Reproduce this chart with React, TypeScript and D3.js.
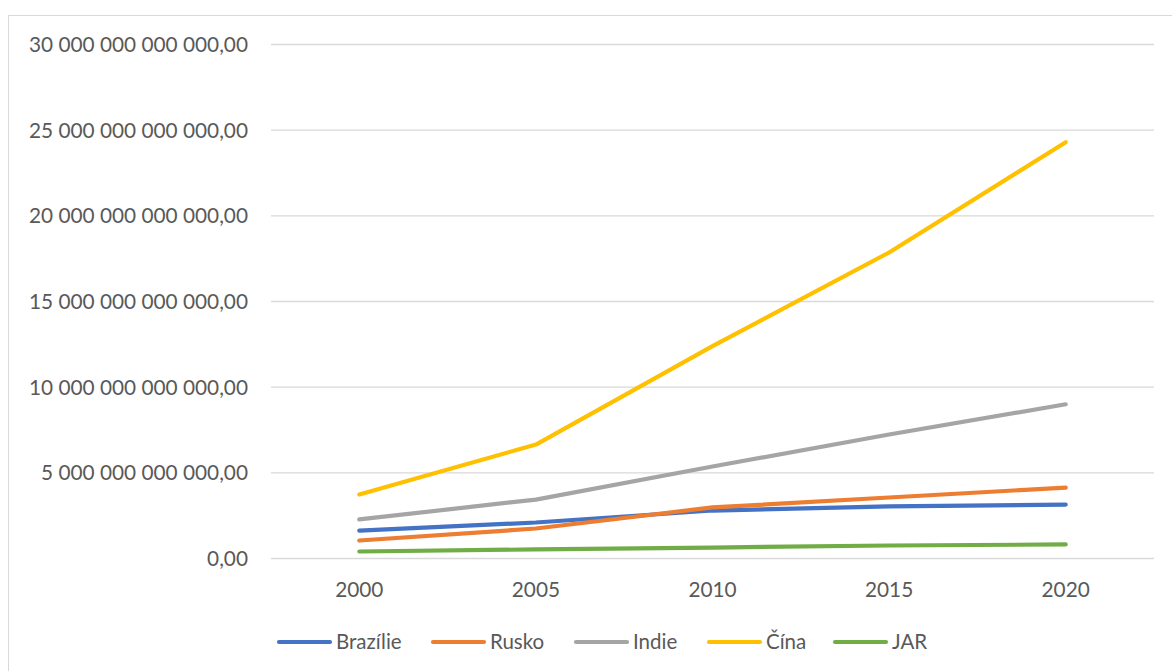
import React from "react";
import * as d3 from "d3";

const years = ["2000", "2005", "2010", "2015", "2020"];
const brazil = [1.63e12, 2.1e12, 2.8e12, 3.04e12, 3.15e12];
const russia = [1.05e12, 1.75e12, 2.98e12, 3.56e12, 4.14e12];
const india = [2.28e12, 3.44e12, 5.37e12, 7.24e12, 9.0e12];
const china = [3.74e12, 6.65e12, 12.4e12, 17.86e12, 24.3e12];
const jar = [0.41e12, 0.53e12, 0.64e12, 0.76e12, 0.82e12];
const yTicks = [0, 5e12, 10e12, 15e12, 20e12, 25e12, 30e12];

const series = [
  { name: "Brazílie", values: brazil, color: "#4472C4" },
  { name: "Rusko", values: russia, color: "#ED7D31" },
  { name: "Indie", values: india, color: "#A5A5A5" },
  { name: "Čína", values: china, color: "#FFC000" },
  { name: "JAR", values: jar, color: "#70AD47" },
];

const fmt = (v: number) => {
  const s = Math.round(v).toString().replace(/\B(?=(\d{3})+(?!\d))/g, " ");
  return s + ",00";
};

export default function App() {
  const W = 1172, H = 671;
  const left = 271, right = 1154, top = 44.5, bottom = 558.5;
  const x = d3.scaleBand().domain(years).range([left, right]);
  const y = d3.scaleLinear().domain([0, 30e12]).range([bottom, top]);
  const line = d3
    .line<number>()
    .x((_, i) => (x(years[i]) as number) + x.bandwidth() / 2)
    .y((d) => y(d))
    .curve(d3.curveLinear);
  const font = "Lato, 'Open Sans', sans-serif";
  const legendX = [277, 431, 574, 707, 833];
  return (
    <svg width={W} height={H} style={{ position: "absolute", left: 0, top: 0 }} fontFamily={font}>
      <rect x={0} y={0} width={W} height={H} fill="#fff" />
      <rect x={8.5} y={15.5} width={1200} height={700} fill="#fff" stroke="#D9D9D9" strokeWidth={1} />
      {yTicks.map((t) => (
        <g key={t}>
          <line x1={left} x2={right} y1={y(t)} y2={y(t)} stroke="#D9D9D9" strokeWidth={1.3} />
          <text x={248} y={y(t) + 7.5} textAnchor="end" fontSize={20.8} fill="#595959">
            {fmt(t)}
          </text>
        </g>
      ))}
      {years.map((yr) => (
        <text key={yr} x={(x(yr) as number) + x.bandwidth() / 2} y={597} textAnchor="middle" fontSize={20.8} fill="#595959">
          {yr}
        </text>
      ))}
      {series.map((s) => (
        <path key={s.name} d={line(s.values) || ""} fill="none" stroke={s.color} strokeWidth={4.2} strokeLinecap="round" strokeLinejoin="round" />
      ))}
      {series.map((s, i) => (
        <g key={s.name}>
          <line x1={legendX[i] + 2} x2={legendX[i] + 53} y1={642} y2={642} stroke={s.color} strokeWidth={4.2} strokeLinecap="round" />
          <text x={legendX[i] + 59} y={649} fontSize={20.5} fill="#595959">
            {s.name}
          </text>
        </g>
      ))}
    </svg>
  );
}
